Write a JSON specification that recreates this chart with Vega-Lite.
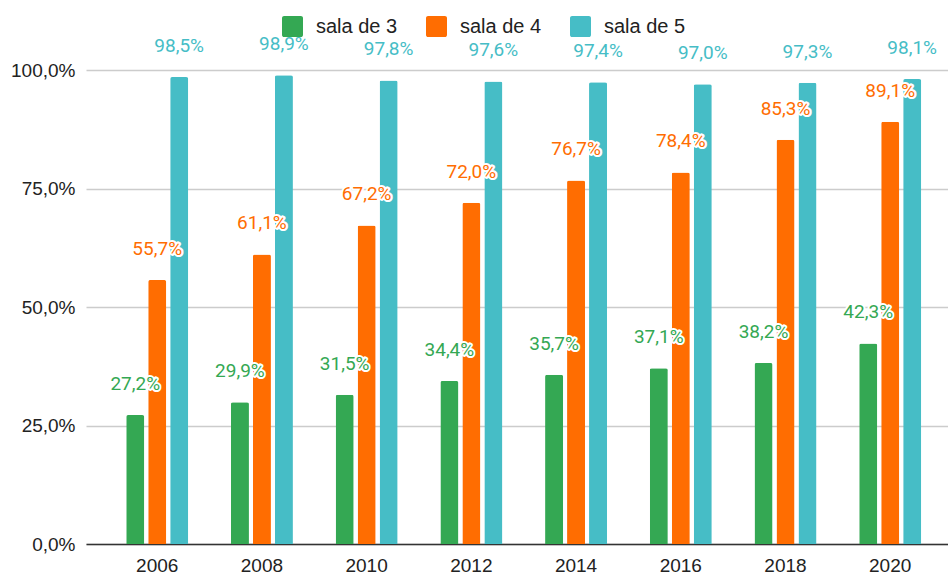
{
  "$schema": "https://vega.github.io/schema/vega-lite/v6.json",
  "width": 862,
  "height": 474,
  "autosize": {"type": "none"},
  "padding": {"left": 86, "top": 70, "right": 0, "bottom": 31},
  "background": "white",
  "config": {
    "locale": {"number": {"decimal": ",", "thousands": ".", "grouping": [3], "currency": ["", " €"]}},
    "font": "Liberation Sans",
    "view": {"stroke": null}
  },
  "data": {
    "values": [
      {"ano": "2006", "serie": "sala de 3", "valor": 0.272},
      {"ano": "2006", "serie": "sala de 4", "valor": 0.557},
      {"ano": "2006", "serie": "sala de 5", "valor": 0.985},
      {"ano": "2008", "serie": "sala de 3", "valor": 0.299},
      {"ano": "2008", "serie": "sala de 4", "valor": 0.611},
      {"ano": "2008", "serie": "sala de 5", "valor": 0.989},
      {"ano": "2010", "serie": "sala de 3", "valor": 0.315},
      {"ano": "2010", "serie": "sala de 4", "valor": 0.672},
      {"ano": "2010", "serie": "sala de 5", "valor": 0.978},
      {"ano": "2012", "serie": "sala de 3", "valor": 0.344},
      {"ano": "2012", "serie": "sala de 4", "valor": 0.720},
      {"ano": "2012", "serie": "sala de 5", "valor": 0.976},
      {"ano": "2014", "serie": "sala de 3", "valor": 0.357},
      {"ano": "2014", "serie": "sala de 4", "valor": 0.767},
      {"ano": "2014", "serie": "sala de 5", "valor": 0.974},
      {"ano": "2016", "serie": "sala de 3", "valor": 0.371},
      {"ano": "2016", "serie": "sala de 4", "valor": 0.784},
      {"ano": "2016", "serie": "sala de 5", "valor": 0.970},
      {"ano": "2018", "serie": "sala de 3", "valor": 0.382},
      {"ano": "2018", "serie": "sala de 4", "valor": 0.853},
      {"ano": "2018", "serie": "sala de 5", "valor": 0.973},
      {"ano": "2020", "serie": "sala de 3", "valor": 0.423},
      {"ano": "2020", "serie": "sala de 4", "valor": 0.891},
      {"ano": "2020", "serie": "sala de 5", "valor": 0.981}
    ]
  },
  "encoding": {
    "x": {
      "field": "ano", "type": "nominal", "title": null,
      "scale": {"paddingInner": 0.408, "paddingOuter": 0.32, "align": 0.6},
      "axis": {
        "labelAngle": 0, "labelFontSize": 19, "labelColor": "#222222", "labelPadding": 12,
        "ticks": false, "domain": true, "domainColor": "#333333", "domainWidth": 1.5, "grid": false
      }
    },
    "xOffset": {
      "field": "serie", "type": "nominal",
      "scale": {"domain": ["sala de 3", "sala de 4", "sala de 5"], "paddingInner": 0.18, "paddingOuter": 0}
    },
    "y": {
      "field": "valor", "type": "quantitative", "title": null,
      "scale": {"domain": [0, 1], "nice": false},
      "axis": {
        "values": [0, 0.25, 0.5, 0.75, 1], "format": ".1%", "labelFontSize": 19, "labelColor": "#222222",
        "labelPadding": 11, "ticks": false, "domain": false, "gridColor": "#cccccc", "gridWidth": 1.5
      }
    }
  },
  "layer": [
    {
      "mark": {"type": "bar", "cornerRadiusEnd": 2},
      "encoding": {
        "color": {
          "field": "serie", "type": "nominal",
          "scale": {"domain": ["sala de 3", "sala de 4", "sala de 5"], "range": ["#34a853", "#ff6d01", "#46bdc6"]},
          "legend": {
            "title": null, "orient": "none", "direction": "horizontal", "legendX": 196, "legendY": -54,
            "symbolType": "M-0.8,-1H0.8A0.2,0.2 0 0 1 1,-0.8V0.8A0.2,0.2 0 0 1 0.8,1H-0.8A0.2,0.2 0 0 1 -1,0.8V-0.8A0.2,0.2 0 0 1 -0.8,-1Z",
            "symbolSize": 441, "symbolStrokeWidth": 0, "labelFontSize": 20, "labelColor": "#222222",
            "labelOffset": 13, "columnPadding": 28
          }
        }
      }
    },
    {
      "mark": {"type": "text", "font": "Roboto", "baseline": "alphabetic", "dy": -25, "fontSize": 19, "stroke": "white", "strokeWidth": 4, "strokeJoin": "round", "fill": "white"},
      "encoding": {"text": {"field": "valor", "type": "quantitative", "format": ".1%"}}
    },
    {
      "mark": {"type": "text", "font": "Roboto", "baseline": "alphabetic", "dy": -25, "fontSize": 19},
      "encoding": {
        "text": {"field": "valor", "type": "quantitative", "format": ".1%"},
        "color": {"field": "serie", "type": "nominal", "legend": null}
      }
    }
  ]
}
